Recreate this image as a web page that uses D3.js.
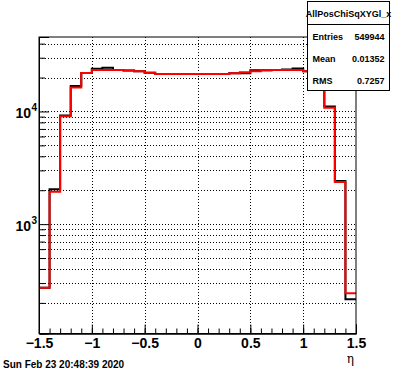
<!DOCTYPE html>
<html>
<head>
<meta charset="utf-8">
<script src="https://cdn.jsdelivr.net/npm/d3@7"></script>
<style>
  body { margin: 0; background: #fff; }
  svg { display: block; font-family: "Liberation Sans", Arial, sans-serif; }
</style>
</head>
<body>
<div id="chart"></div>
<script>
// bins: 30 bins of width 0.1 from -1.5 to 1.5
const binEdges = d3.range(31).map(i => +(-1.5 + i * 0.1).toFixed(2));
const redCounts = [272, 1935, 9090, 16300, 22000, 23300, 23300, 23300, 23100, 22800,
                   22100, 21500, 21500, 21500, 21500, 21500, 21500, 21500, 21800, 22300,
                   22700, 23200, 23300, 23300, 23300, 22800, 18900, 10800, 2370, 243];
const blackCounts = [272, 2045, 9200, 16800, 22000, 23900, 24400, 23300, 23100, 22800,
                     22100, 21500, 21500, 21500, 21500, 21500, 21500, 21500, 21800, 21800,
                     23200, 23200, 23300, 23600, 24000, 22800, 18900, 11050, 2420, 216];
const xMajor = [-1.5, -1, -0.5, 0, 0.5, 1, 1.5];
const xLabels = ["\u22121.5", "\u22121", "\u22120.5", "0", "0.5", "1", "1.5"];
const yMajor = [1000, 10000];
const yLabels = ["3", "4"];
const statsTitle = "AllPosChiSqXYGl_x";
const statsRows = [["Entries", "549944"], ["Mean", "0.01352"], ["RMS", "0.7257"]];
const dateText = "Sun Feb 23 20:48:39 2020";

const W = 396, H = 372;
const frame = { left: 39, right: 356, top: 37, bottom: 333.5 };

const svg = d3.select("#chart").append("svg")
    .attr("width", W).attr("height", H);

const x = d3.scaleLinear().domain([-1.5, 1.5]).range([frame.left, frame.right]);
const y = d3.scaleLog().domain([107, 45800]).range([frame.bottom, frame.top]);

// minor log ticks / grid values
const yMinor = [];
[100, 1000, 10000].forEach(dec => {
    for (let k = 2; k <= 9; k++) {
        const v = k * dec;
        if (v > 107 && v < 45800) yMinor.push(v);
    }
});
const yGrid = yMinor.concat(yMajor);
const xMinor = d3.range(31).map(i => +(-1.5 + i * 0.1).toFixed(2));

// grid
svg.append("g").selectAll("line")
    .data(yGrid).enter().append("line")
    .attr("x1", frame.left).attr("x2", frame.right)
    .attr("y1", d => Math.round(y(d)) + 0.5).attr("y2", d => Math.round(y(d)) + 0.5)
    .attr("stroke", "#000").attr("stroke-width", 1)
    .attr("stroke-dasharray", "1,2");

svg.append("g").selectAll("line")
    .data(xMajor.slice(1, -1)).enter().append("line")
    .attr("x1", d => Math.round(x(d)) + 0.5).attr("x2", d => Math.round(x(d)) + 0.5)
    .attr("y1", frame.top).attr("y2", frame.bottom)
    .attr("stroke", "#000").attr("stroke-width", 1)
    .attr("stroke-dasharray", "1,2");

// histograms
const line = d3.line()
    .x(d => x(d[0]))
    .y(d => y(d[1]))
    .curve(d3.curveStepAfter);

function stepPoints(counts) {
    const pts = counts.map((c, i) => [binEdges[i], c]);
    pts.push([binEdges[binEdges.length - 1], counts[counts.length - 1]]);
    return pts;
}

svg.append("path")
    .datum(stepPoints(blackCounts))
    .attr("fill", "none")
    .attr("stroke", "#000")
    .attr("stroke-width", 2)
    .attr("d", line);

svg.append("path")
    .datum(stepPoints(redCounts))
    .attr("fill", "none")
    .attr("stroke", "#ff0000")
    .attr("stroke-width", 2)
    .attr("d", line);

// frame
svg.append("rect")
    .attr("x", frame.left).attr("y", frame.top)
    .attr("width", frame.right - frame.left).attr("height", frame.bottom - frame.top)
    .attr("fill", "none").attr("stroke", "#000").attr("stroke-width", 1);

// x axis
const xAxisMinor = svg.append("g")
    .attr("transform", `translate(0,${frame.bottom})`)
    .call(d3.axisBottom(x).tickValues(xMinor).tickSize(-5).tickFormat(""));
const xAxis = svg.append("g")
    .attr("transform", `translate(0,${frame.bottom})`)
    .call(d3.axisBottom(x).tickValues(xMajor).tickSize(-9).tickPadding(5)
        .tickFormat((d, i) => xLabels[i]));
[xAxisMinor, xAxis].forEach(g => {
    g.select(".domain").attr("stroke", "#000");
    g.selectAll(".tick line").attr("stroke", "#000");
});
xAxis.selectAll("text")
    .attr("fill", "#000")
    .style("font-size", "14px")
    .style("font-weight", "bold")
    .attr("dy", "0.66em");

// y axis
const yAxisMinor = svg.append("g")
    .attr("transform", `translate(${frame.left},0)`)
    .call(d3.axisLeft(y).tickValues(yMinor).tickSize(-6).tickFormat(""));
const yAxis = svg.append("g")
    .attr("transform", `translate(${frame.left},0)`)
    .call(d3.axisLeft(y).tickValues(yMajor).tickSize(-10).tickFormat(""));
[yAxisMinor, yAxis].forEach(g => {
    g.select(".domain").attr("stroke", "#000");
    g.selectAll(".tick line").attr("stroke", "#000");
});

svg.append("g").selectAll("text")
    .data(yMajor).enter().append("text")
    .attr("x", 31)
    .attr("y", d => y(d) + 7)
    .attr("text-anchor", "end")
    .style("font-size", "14px")
    .style("font-weight", "bold")
    .text("10");
svg.append("g").selectAll("text")
    .data(yMajor).enter().append("text")
    .attr("x", 31.5)
    .attr("y", d => y(d) + 0)
    .style("font-size", "10px")
    .style("font-weight", "bold")
    .text((d, i) => yLabels[i]);

// axis title
svg.append("text")
    .attr("x", 354)
    .attr("y", 363)
    .attr("text-anchor", "end")
    .style("font-family", "'DejaVu Serif', serif")
    .style("font-size", "12px")
    .text("\u03b7");

// date
svg.append("text")
    .attr("x", 3)
    .attr("y", 368)
    .style("font-size", "10px")
    .style("font-weight", "bold")
    .text(dateText);

// stats box
const box = { x: 307.5, y: 1.5, w: 82, h: 89, titleH: 23 };
const stats = svg.append("g");
stats.append("rect")
    .attr("x", box.x).attr("y", box.y)
    .attr("width", box.w).attr("height", box.h)
    .attr("fill", "#fff").attr("stroke", "#000").attr("stroke-width", 1);
stats.append("line")
    .attr("x1", box.x).attr("x2", box.x + box.w)
    .attr("y1", box.y + box.titleH).attr("y2", box.y + box.titleH)
    .attr("stroke", "#000");
stats.append("text")
    .attr("x", box.x + box.w / 2)
    .attr("y", box.y + 15)
    .attr("text-anchor", "middle")
    .style("font-size", "9px")
    .style("font-weight", "bold")
    .text(statsTitle);
statsRows.forEach((r, i) => {
    const ty = box.y + 38 + i * 22;
    stats.append("text")
        .attr("x", box.x + 5).attr("y", ty)
        .style("font-size", "9px")
        .style("font-weight", "bold")
        .text(r[0]);
    stats.append("text")
        .attr("x", box.x + box.w - 5).attr("y", ty)
        .attr("text-anchor", "end")
        .style("font-size", "9px")
        .style("font-weight", "bold")
        .text(r[1]);
});
</script>
</body>
</html>
